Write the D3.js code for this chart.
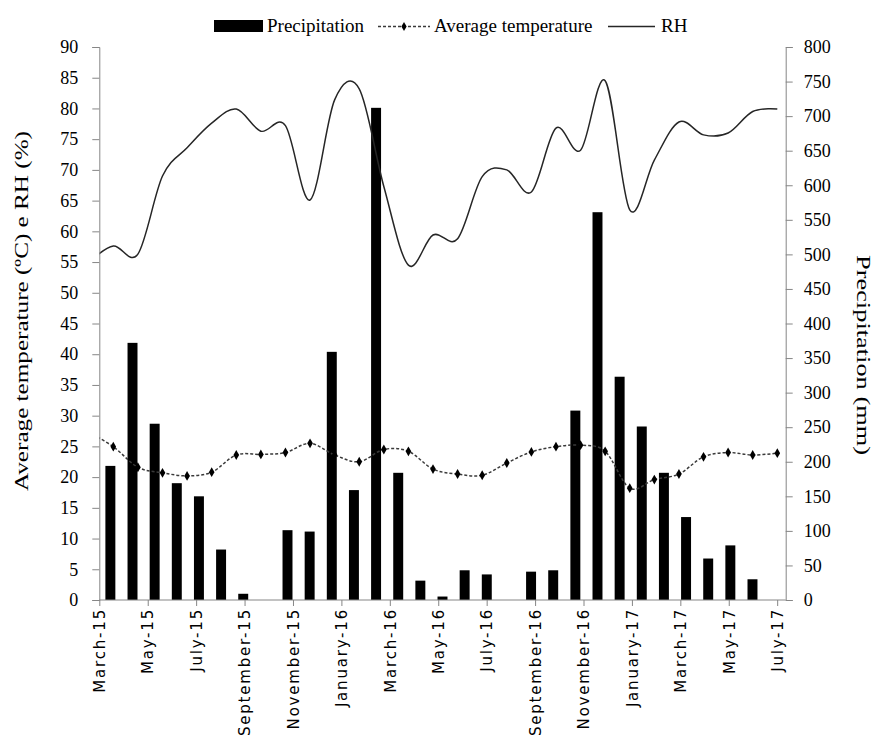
<!DOCTYPE html>
<html lang="en">
  <head>
    <meta charset="UTF-8" />
    <title>Precipitation, average temperature and RH</title>
    <script src="https://d3js.org/d3.v7.min.js"></script>
    <style>
      body {
        margin: 0;
        padding: 0;
        background: #fff;
      }
      .tick text {
        font-family: "Liberation Serif", serif;
        font-size: 18px;
        fill: #000;
      }
      .xaxis .tick text {
        font-family: "DejaVu Sans", sans-serif;
        font-size: 15px;
        letter-spacing: 1.8px;
      }
      .axis path,
      .axis line {
        stroke: #868686;
      }
      .legend text,
      .title {
        font-family: "Liberation Serif", serif;
        font-size: 19px;
        fill: #000;
      }
    </style>
  </head>
  <body>
    <svg id="chart" width="873" height="735"></svg>

    <script>
      // month labels of the x axis (every second month is labelled)
      var months = [
        "March-15", "April-15", "May-15", "June-15", "July-15", "August-15",
        "September-15", "October-15", "November-15", "December-15", "January-16",
        "February-16", "March-16", "April-16", "May-16", "June-16", "July-16",
        "August-16", "September-16", "October-16", "November-16", "December-16",
        "January-17", "February-17", "March-17", "April-17", "May-17", "June-17",
        "July-17"
      ];

      // precipitation (mm), one bar slot each
      var precipitation = [
        194, 372, 255, 169, 150, 73, 9, 0, 101, 99, 359, 159, 712, 184, 28, 5,
        43, 37, 0, 41, 43, 274, 561, 323, 251, 184, 120, 60, 79, 30, 0
      ];

      // average temperature (ºC)
      var temperature = [
        27.3, 24.95, 21.6, 20.7, 20.2, 20.8, 23.6, 23.7, 24.0, 25.5, 23.6, 22.5,
        24.5, 24.2, 21.3, 20.5, 20.3, 22.3, 24.1, 24.95, 25.2, 24.2, 18.2, 19.6,
        20.5, 23.3, 24.0, 23.6, 23.9
      ];

      // relative humidity (%)
      var rh = [
        55, 57.6, 56.3, 69.0, 73.6, 77.6, 79.9, 76.3, 77.2, 65.1, 81.4, 83.2,
        67.3, 54.5, 59.4, 58.8, 68.9, 70.0, 66.4, 76.8, 73.2, 84.5, 63.5, 71.6,
        77.8, 75.7, 76.0, 79.5, 79.9
      ];

      var leftTicks = d3.range(0, 91, 5);
      var rightTicks = d3.range(0, 801, 50);

      var plotLeft = 99.3,
        plotRight = 785.7,
        plotTop = 47,
        plotBottom = 600;

      var svg = d3.select("#chart");

      // scales
      var yLeft = d3.scaleLinear().domain([0, 90]).range([plotBottom, plotTop]);
      var yRight = d3.scaleLinear().domain([0, 800]).range([plotBottom, plotTop]);

      var xMonth = d3
        .scalePoint()
        .domain(months)
        .range([plotLeft, plotLeft + 24.21 * (months.length - 1)]);

      var xBar = d3
        .scaleBand()
        .domain(d3.range(precipitation.length))
        .range([plotLeft, plotRight])
        .paddingInner(0.55)
        .paddingOuter(0.275);

      // the line series sit on their own category spacing
      var xLine = d3
        .scaleLinear()
        .domain([1, months.length - 1])
        .range([113.3, 777.3]);

      svg
        .append("clipPath")
        .attr("id", "plot-clip")
        .append("rect")
        .attr("x", plotLeft)
        .attr("y", 0)
        .attr("width", plotRight - plotLeft)
        .attr("height", plotBottom);

      // bars
      svg
        .append("g")
        .selectAll("rect")
        .data(precipitation)
        .enter()
        .append("rect")
        .attr("x", function (d, i) {
          return xBar(i);
        })
        .attr("y", function (d) {
          return yRight(d);
        })
        .attr("width", xBar.bandwidth())
        .attr("height", function (d) {
          return plotBottom - yRight(d);
        })
        .attr("fill", "#000");

      var lines = svg.append("g").attr("clip-path", "url(#plot-clip)");

      var smoothLine = d3
        .line()
        .x(function (d, i) {
          return xLine(i);
        })
        .y(function (d) {
          return yLeft(d);
        })
        .curve(d3.curveCardinal.tension(0));

      // RH line
      lines
        .append("path")
        .datum(rh)
        .attr("d", smoothLine)
        .attr("fill", "none")
        .attr("stroke", "#262626")
        .attr("stroke-width", 1.5);

      // temperature line
      lines
        .append("path")
        .datum(temperature)
        .attr("d", smoothLine)
        .attr("fill", "none")
        .attr("stroke", "#3a3a3a")
        .attr("stroke-width", 1.5)
        .attr("stroke-dasharray", "3,2");

      lines
        .selectAll(".marker")
        .data(temperature)
        .enter()
        .append("path")
        .attr("class", "marker")
        .attr("d", d3.symbol().type(d3.symbolDiamond).size(28))
        .attr("transform", function (d, i) {
          return "translate(" + xLine(i) + "," + yLeft(d) + ")";
        })
        .attr("fill", "#000");

      // axes
      svg
        .append("g")
        .attr("class", "axis")
        .attr("transform", "translate(" + plotLeft + ",0)")
        .call(
          d3.axisLeft(yLeft).tickValues(leftTicks).tickSize(7).tickPadding(14)
        );

      svg
        .append("g")
        .attr("class", "axis")
        .attr("transform", "translate(" + plotRight + ",0)")
        .call(
          d3
            .axisRight(yRight)
            .tickValues(rightTicks)
            .tickSize(7)
            .tickPadding(11)
        );

      svg
        .append("line")
        .attr("x1", plotLeft)
        .attr("x2", plotRight)
        .attr("y1", plotBottom)
        .attr("y2", plotBottom)
        .style("stroke", "#868686");

      var axisBottom = svg
        .append("g")
        .attr("class", "axis xaxis")
        .attr("transform", "translate(0," + plotBottom + ")")
        .call(
          d3
            .axisBottom(xMonth)
            .tickValues(
              months.filter(function (d, i) {
                return i % 2 === 0;
              })
            )
            .tickSize(6)
            .tickSizeOuter(0)
        );
      axisBottom.select(".domain").remove();
      axisBottom
        .selectAll(".tick text")
        .attr("transform", "rotate(-90)")
        .attr("x", -8)
        .attr("y", 0)
        .attr("dy", "0.35em")
        .style("text-anchor", "end");

      // axis titles
      svg
        .append("text")
        .attr("class", "title")
        .attr("transform", "translate(28,311) rotate(-90)")
        .attr("text-anchor", "middle")
        .attr("textLength", 360)
        .attr("lengthAdjust", "spacingAndGlyphs")
        .text("Average temperature (ºC) e RH (%)");

      svg
        .append("text")
        .attr("class", "title")
        .attr("transform", "translate(857,355) rotate(90)")
        .attr("text-anchor", "middle")
        .attr("textLength", 200)
        .attr("lengthAdjust", "spacingAndGlyphs")
        .text("Precipitation (mm)");

      // legend
      var legend = svg.append("g").attr("class", "legend");

      legend
        .append("rect")
        .attr("x", 214)
        .attr("y", 20)
        .attr("width", 49)
        .attr("height", 12)
        .attr("fill", "#000");
      legend.append("text").attr("x", 267).attr("y", 32).text("Precipitation");

      legend
        .append("line")
        .attr("x1", 378)
        .attr("x2", 430)
        .attr("y1", 26.5)
        .attr("y2", 26.5)
        .attr("stroke", "#3a3a3a")
        .attr("stroke-width", 1.5)
        .attr("stroke-dasharray", "3,2");
      legend
        .append("path")
        .attr("d", d3.symbol().type(d3.symbolDiamond).size(24))
        .attr("transform", "translate(404,26.5)")
        .attr("fill", "#000");
      legend
        .append("text")
        .attr("x", 434)
        .attr("y", 32)
        .text("Average temperature");

      legend
        .append("line")
        .attr("x1", 608)
        .attr("x2", 655)
        .attr("y1", 26.5)
        .attr("y2", 26.5)
        .attr("stroke", "#262626")
        .attr("stroke-width", 1.5);
      legend.append("text").attr("x", 661).attr("y", 32).text("RH");
    </script>
  </body>
</html>
